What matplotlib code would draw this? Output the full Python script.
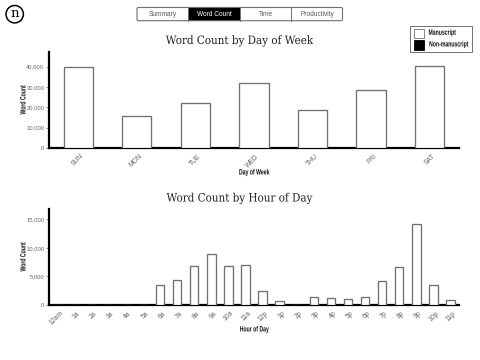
import matplotlib
matplotlib.use("Agg")
import matplotlib.pyplot as plt
from matplotlib.patches import Circle, Rectangle, FancyBboxPatch
from matplotlib.patheffects import AbstractPathEffect
from matplotlib.transforms import Affine2D

days = ["SUN", "MON", "TUE", "WED", "THU", "FRI", "SAT"]
day_words = [39700, 15900, 22300, 31800, 18900, 28700, 40200]

hours = ["12am", "1a", "2a", "3a", "4a", "5a", "6a", "7a", "8a", "9a", "10a", "11a",
         "12p", "1p", "2p", "3p", "4p", "5p", "6p", "7p", "8p", "9p", "10p", "11p"]
hour_words = [0, 0, 0, 0, 0, 0, 3570, 4440, 6780, 8890, 6840, 6960,
              2500, 700, 0, 1400, 1280, 1100, 1400, 4260, 6600, 14090, 3450, 880]

tabs = ["Summary", "Word Count", "Time", "Productivity"]
active_tab = "Word Count"
legend_labels = ["Manuscript", "Non-manuscript"]

W, H = 480, 360
SANS = ["Liberation Sans", "DejaVu Sans"]
SERIF = ["DejaVu Serif"]
EDGE = "#707070"
TICK = "#666666"


class Condense(AbstractPathEffect):
    # no condensed font installed, so squeeze the glyphs along the text direction
    def __init__(self, factor):
        super().__init__()
        self.factor = factor

    def draw_path(self, renderer, gc, tpath, affine, rgbFace=None):
        ext = tpath.get_extents()
        mid = (ext.x0 + ext.x1) / 2
        squeeze = Affine2D().translate(-mid, 0).scale(self.factor, 1).translate(mid, 0)
        renderer.draw_path(gc, tpath, squeeze + affine, rgbFace)


def narrow_text(x, y, s, rotation=0):
    return ui.text(x, y, s, family=SANS, fontsize=5.6, fontweight="bold", color="#111111",
                   rotation=rotation, ha="center", va="center",
                   path_effects=[Condense(0.66)])


def bar_panel(rect, labels, values, ymax, yticks, title, xlabel, title_y, xlabel_y):
    left, top, width, height = rect
    ax = fig.add_axes([left / W, 1 - (top + height) / H, width / W, height / H])
    xs = range(len(labels))
    ax.bar(xs, values, width=0.5, color="white", edgecolor=EDGE, linewidth=0.95, zorder=3)
    ax.set_xlim(-0.5, len(labels) - 0.5)
    ax.set_ylim(0, ymax)
    ax.spines["top"].set_visible(False)
    ax.spines["right"].set_visible(False)
    ax.spines["left"].set_linewidth(1.6)
    ax.spines["bottom"].set_linewidth(1.6)
    ax.spines["bottom"].set_zorder(2)
    ax.set_xticks(list(xs))
    ax.set_xticklabels(labels, rotation=45, ha="right", va="top", family=SANS,
                       fontsize=4.9, color=TICK)
    ax.set_yticks(yticks)
    ax.set_yticklabels([f"{v:,}" for v in yticks], family=SANS, fontsize=4.2, color=TICK)
    ax.tick_params(axis="x", length=0, pad=3.5)
    ax.tick_params(axis="y", length=2, width=0.5, color=TICK, pad=1.5)
    # labels end a little past the tick; tick_params resets transforms, so do this after it
    for lbl in ax.get_xticklabels():
        lbl.set_transform(lbl.get_transform() + Affine2D().translate(7, 0))
    ui.text(left + width / 2 - 14.5, title_y, title, family=SERIF, fontsize=8.3,
            color="#222222", ha="center", va="center", path_effects=[Condense(0.9)])
    narrow_text(left + width / 2, xlabel_y, xlabel)
    narrow_text(24, top + 48, "Word Count", rotation=90)
    return ax


fig = plt.figure(figsize=(W / 100, H / 100), dpi=100, facecolor="white")

# page furniture in pixel coordinates
ui = fig.add_axes([0, 0, 1, 1], zorder=5)
ui.set_xlim(0, W)
ui.set_ylim(H, 0)
ui.axis("off")

bar_panel((49, 52, 410, 96), days, day_words, 47200, [0, 10000, 20000, 30000, 40000],
          "Word Count by Day of Week", "Day of Week", 40.5, 173)
bar_panel((49, 209, 410, 96), hours, hour_words, 16800, [0, 5000, 10000, 15000],
          "Word Count by Hour of Day", "Hour of Day", 198, 330)

ui.add_patch(Circle((14.7, 14.2), 8.7, fill=False, edgecolor="black", linewidth=1.1))
ui.text(14.7, 13.6, "n", family=SERIF, fontsize=9.5, color="black", ha="center", va="center")

edges = [137, 188.3, 240, 291.3, 342.5]
for i, tab in enumerate(tabs):
    on = tab == active_tab
    if on:
        ui.add_patch(Rectangle((edges[i], 7.5), edges[i + 1] - edges[i], 13.2,
                               facecolor="black", edgecolor="none"))
    ui.text((edges[i] + edges[i + 1]) / 2, 14, tab, family=SANS, fontsize=4.7,
            color="white" if on else "#555555", ha="center", va="center")
    if i > 0:
        ui.plot([edges[i], edges[i]], [7.5, 20.7], color=EDGE, linewidth=0.7)
ui.add_patch(FancyBboxPatch((137, 7.5), 205.5, 13.2, boxstyle="round,pad=0,rounding_size=1.5",
                            fill=False, edgecolor=EDGE, linewidth=0.8))

ui.add_patch(Rectangle((409.5, 25.7), 62.5, 26, facecolor="white", edgecolor=EDGE, linewidth=0.7))
swatches = ["white", "black"]
label_x = [442, 448.5]
for i, label in enumerate(legend_labels):
    y = 28.5 + i * 11.7
    ui.add_patch(Rectangle((414, y), 9.5, 9.5, facecolor=swatches[i],
                           edgecolor=EDGE if i == 0 else "black", linewidth=0.6))
    narrow_text(label_x[i], y + 4.8, label)

fig.savefig("out.png", dpi=100)
